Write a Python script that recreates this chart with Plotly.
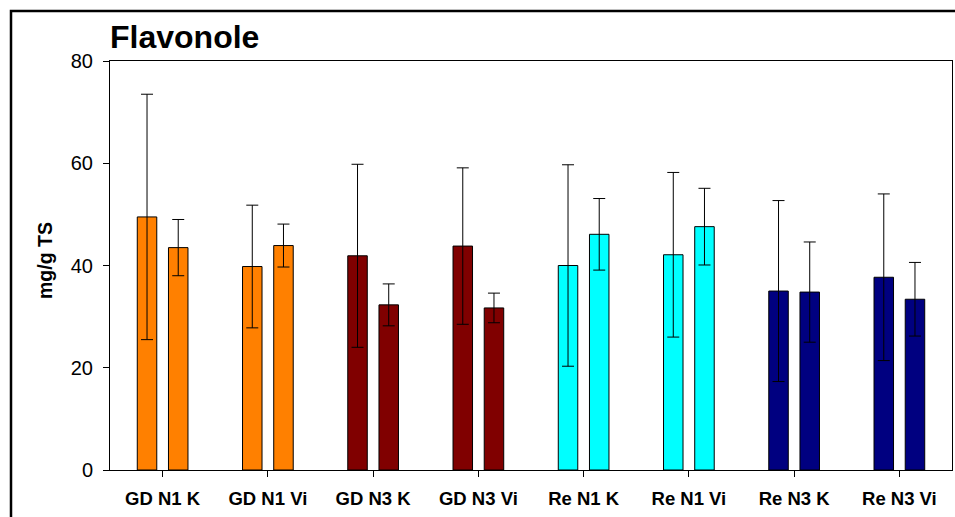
import plotly.graph_objects as go

# Sample groups on the x axis
categories = ["GD N1 K", "GD N1 Vi", "GD N3 K", "GD N3 Vi",
              "Re N1 K", "Re N1 Vi", "Re N3 K", "Re N3 Vi"]

# Flavonol content (mg/g TS), two measurements per group, with standard deviations
first_mean = [49.5, 39.8, 41.9, 43.8, 40.0, 42.1, 35.0, 37.7]
first_sd = [24.0, 12.0, 17.9, 15.3, 19.7, 16.1, 17.7, 16.3]
second_mean = [43.5, 43.9, 32.3, 31.7, 46.1, 47.6, 34.8, 33.4]
second_sd = [5.5, 4.2, 4.1, 2.9, 7.0, 7.5, 9.8, 7.2]

# One colour per site/treatment pair
group_colors = ["#FF8000", "#FF8000", "#800000", "#800000",
                "#00FFFF", "#00FFFF", "#000080", "#000080"]

y_ticks = [0, 20, 40, 60, 80]

FONT = "Liberation Sans, Arial, sans-serif"

fig = go.Figure()
for means, sds in ((first_mean, first_sd), (second_mean, second_sd)):
    fig.add_trace(go.Bar(
        x=categories,
        y=means,
        marker=dict(color=group_colors, line=dict(color="black", width=1)),
        error_y=dict(type="data", array=sds, visible=True,
                     color="black", thickness=1, width=6),
        showlegend=False,
    ))

W, H = 955, 517
L, R, T, B = 110, 3, 61, 47
pw, ph = W - L - R, H - T - B


def px_x(x):
    return (x - L) / pw


def px_y(y):
    return (H - B - y) / ph


fig.update_layout(
    width=W, height=H,
    margin=dict(l=L, r=R, t=T, b=B),
    paper_bgcolor="white",
    plot_bgcolor="white",
    barmode="group",
    bargap=0.407,
    bargroupgap=0.375,
    font=dict(family=FONT, color="black"),
    xaxis=dict(
        showline=True, linecolor="black", linewidth=1, mirror=True,
        ticks="outside", ticklen=6, tickcolor="black",
        tickfont=dict(size=18.5, family=FONT, color="black", weight="bold"),
        ticklabelstandoff=6,
        showgrid=False,
    ),
    yaxis=dict(
        range=[0, 80],
        tickvals=y_ticks,
        showline=True, linecolor="black", linewidth=1, mirror=True,
        ticks="outside", ticklen=6, tickcolor="black",
        tickfont=dict(size=20, family=FONT, color="black"),
        ticklabelstandoff=6,
        showgrid=False, zeroline=False,
    ),
    annotations=[
        dict(text="<b>Flavonole</b>", xref="paper", yref="paper",
             x=px_x(108), y=px_y(37), xanchor="left", yanchor="middle",
             showarrow=False, font=dict(size=32, family=FONT, color="black")),
        dict(text="<b>mg/g TS</b>", xref="paper", yref="paper",
             x=px_x(45), y=px_y(261), xanchor="center", yanchor="middle",
             textangle=-90, showarrow=False,
             font=dict(size=19.5, family=FONT, color="black")),
    ],
    shapes=[
        # outer frame around the chart (left and top edges)
        dict(type="path", xref="paper", yref="paper",
             path=f"M {px_x(11)} {px_y(530)} L {px_x(11)} {px_y(11)} L {px_x(970)} {px_y(11)}",
             line=dict(color="black", width=2.5)),
    ],
)

fig.write_html("out.html")
